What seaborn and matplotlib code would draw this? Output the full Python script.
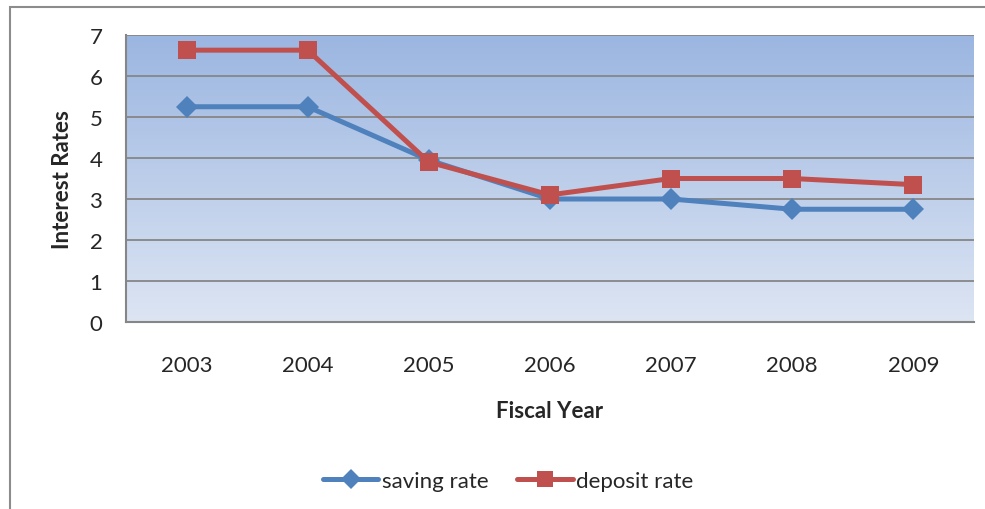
import numpy as np
import pandas as pd
import matplotlib
matplotlib.use("Agg")
import matplotlib.pyplot as plt
import seaborn as sns
from matplotlib.patches import Rectangle
from matplotlib.colors import LinearSegmentedColormap

# data
years = ["2003", "2004", "2005", "2006", "2007", "2008", "2009"]
saving_rate = [5.25, 5.25, 3.95, 3.0, 3.0, 2.75, 2.75]
deposit_rate = [6.63, 6.63, 3.9, 3.1, 3.5, 3.5, 3.35]
series_names = ["saving rate", "deposit rate"]

df = pd.DataFrame({
    "year": years * 2,
    "rate": saving_rate + deposit_rate,
    "series": [series_names[0]] * len(years) + [series_names[1]] * len(years),
})
df["pos"] = list(range(len(years))) * 2

sns.set_style("white")
plt.rcParams["font.family"] = ["Lato", "DejaVu Sans"]

fig = plt.figure(figsize=(9.85, 5.10), dpi=100)
ax = fig.add_axes([126 / 985, 1 - 323 / 510, (974 - 126) / 985, (323 - 36) / 510])

# outer chart border (Excel chart area)
fig.patches.append(Rectangle((10 / 985, -0.1), 1.2, 1 - 8 / 510 + 0.1, transform=fig.transFigure,
                             fill=False, edgecolor="#8c8c8c", linewidth=1.5))

# gradient plot area
cmap = LinearSegmentedColormap.from_list("bg", ["#dde5f3", "#9bb6e1"])
grad = np.linspace(0, 1, 256).reshape(-1, 1)
ax.imshow(grad, aspect="auto", cmap=cmap, origin="lower",
          extent=[-0.5, 6.5, 0, 7], zorder=0)

palette = {"saving rate": "#4f81bd", "deposit rate": "#c0504d"}
sns.lineplot(data=df, x="pos", y="rate", hue="series", style="series",
             markers={"saving rate": "D", "deposit rate": "s"}, dashes=False,
             palette=palette, linewidth=3.6, markersize=13, markeredgewidth=0,
             ax=ax, zorder=3)
# diamonds a bit smaller than the squares
for line in ax.lines:
    if line.get_marker() == "D":
        line.set_markersize(11)

ax.set_xlim(-0.5, 6.5)
ax.set_ylim(0, 7)
ax.set_yticks(range(8))
for y in range(1, 8):
    ax.axhline(y, color="#868686", linewidth=1.3, zorder=1)

ax.set_xticks(range(len(years)))
ax.set_xticklabels(years)
ax.set_xticks(np.arange(-0.5, 7, 1), minor=True)
ax.tick_params(axis="x", which="major", length=0, pad=24, labelsize=16)
ax.tick_params(axis="x", which="minor", length=6, width=1.3, color="#868686", direction="out")
ax.tick_params(axis="y", length=6, width=1.3, color="#868686", direction="out", pad=11, labelsize=16)

for side in ["top", "right"]:
    ax.spines[side].set_visible(False)
for side in ["left", "bottom"]:
    ax.spines[side].set_color("#868686")
    ax.spines[side].set_linewidth(1.5)

ax.set_xlabel("Fiscal Year", fontsize=16, fontweight="bold", labelpad=18)
ax.set_ylabel("Interest Rates", fontsize=16, fontweight="bold", labelpad=12)

handles, labels = ax.get_legend_handles_labels()
for h in handles:
    h.set_markersize(10 if h.get_marker() == "D" else 12)
ax.legend(handles, labels, loc="center", bbox_to_anchor=(508 / 985, 1 - 482 / 510),
          bbox_transform=fig.transFigure, ncol=2, frameon=False, fontsize=16,
          handlelength=2.5, handletextpad=0.15, columnspacing=1.3)

fig.savefig("out.png", dpi=100)
